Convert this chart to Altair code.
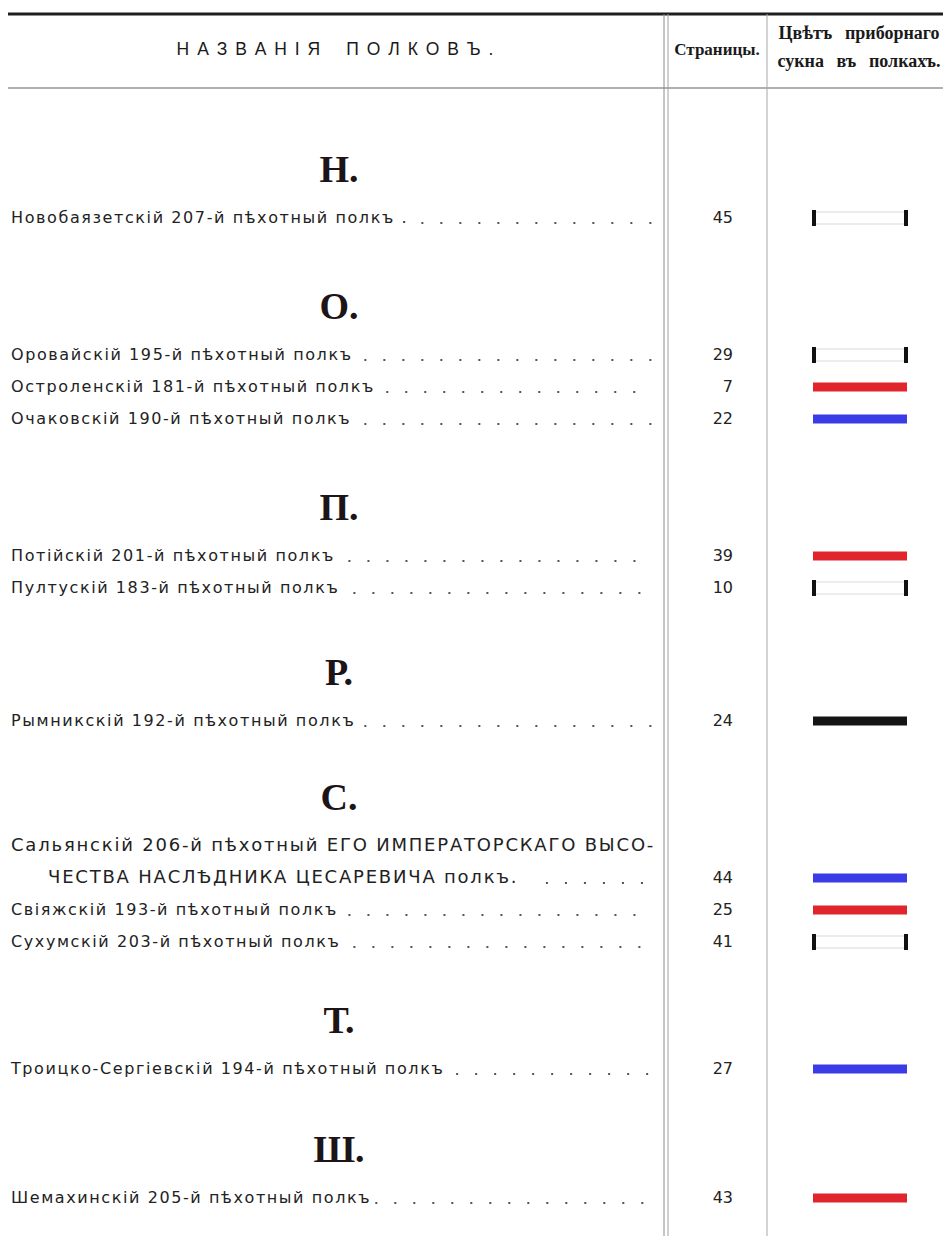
import altair as alt
import pandas as pd

# ---------------- data ----------------
letters = ["Н.", "О.", "П.", "Р.", "С.", "Т.", "Ш."]
regiments = [
    "Новобаязетскій 207-й пѣхотный полкъ .",
    "Оровайскій 195-й пѣхотный полкъ",
    "Остроленскій 181-й пѣхотный полкъ",
    "Очаковскій 190-й пѣхотный полкъ",
    "Потійскій 201-й пѣхотный полкъ",
    "Пултускій 183-й пѣхотный полкъ",
    "Рымникскій 192-й пѣхотный полкъ",
    "Сальянскій 206-й пѣхотный ЕГО ИМПЕРАТОРСКАГО ВЫСО-\nЧЕСТВА НАСЛѢДНИКА ЦЕСАРЕВИЧА полкъ.",
    "Свіяжскій 193-й пѣхотный полкъ",
    "Сухумскій 203-й пѣхотный полкъ",
    "Троицко-Сергіевскій 194-й пѣхотный полкъ",
    "Шемахинскій 205-й пѣхотный полкъ",
]
section_of = [0, 1, 1, 1, 2, 2, 3, 4, 4, 4, 5, 6]
pages = [45, 29, 7, 22, 39, 10, 24, 44, 25, 41, 27, 43]
cloth = ["white", "white", "red", "blue", "red", "white", "black",
         "blue", "red", "white", "blue", "red"]
cloth_colors = {"red": "#e0262c", "blue": "#3c3ce6", "black": "#141414"}
header_names = "НАЗВАНІЯ ПОЛКОВЪ."
header_pages = "Страницы."
header_cloth = ["Цвѣтъ приборнаго", "сукна въ полкахъ."]

# ---------------- layout (page pixel coordinates) ----------------
W, H = 935, 1228
FIRST_HEAD = 171
HEAD_GAP = 47
ROW = 32
SECTION_GAPS = [90, 90, 86, 78, 80, 82]
TEXT_X = 11
INDENT_X = 48
LEADER_END = 652
PAGE_X = 733
SW_X1, SW_X2 = 813, 907
TEXT_FS = 16
LONG_FS = 18
HAIR = "\u200a"


def track(s):
    return HAIR.join(s)


def est_width(s, fs=TEXT_FS):
    w = 0.0
    for c in s:
        if c == " ":
            w += 0.318
        elif c in ".,":
            w += 0.318
        elif c == "-":
            w += 0.36
        elif c.isdigit():
            w += 0.636
        elif c.isupper():
            w += 0.72
        elif c in "іi":
            w += 0.28
        else:
            w += 0.60
    return (w * fs * 0.92 + len(s) * 0.1 * fs) * 1.05


head_rows, text_rows, entry_rows = [], [], []
y = FIRST_HEAD
last_y = y
last_x = TEXT_X
for s, letter in enumerate(letters):
    head_rows.append({"t": letter, "y": y})
    y += HEAD_GAP
    for i, sec in enumerate(section_of):
        if sec != s:
            continue
        lines = regiments[i].split("\n")
        fs = TEXT_FS if len(lines) == 1 else LONG_FS
        for k, line in enumerate(lines):
            x0 = TEXT_X if k == 0 else INDENT_X
            text_rows.append({"t": track(line), "x": x0, "y": y, "fs": fs})
            last_y = y
            last_x = x0 + est_width(line, fs)
            y += ROW
        entry_rows.append({
            "y": last_y, "yd": last_y + 5,
            "page": str(pages[i]), "cloth": cloth[i],
            "ls": last_x + 32, "le": LEADER_END,
        })
    if s < len(SECTION_GAPS):
        y = last_y + SECTION_GAPS[s]

heads = pd.DataFrame(head_rows)
texts = pd.DataFrame(text_rows)
entries = pd.DataFrame(entry_rows)

xs = alt.Scale(domain=[8, 8 + W], nice=False, zero=False)
ys = alt.Scale(domain=[8, 8 + H], nice=False, zero=False, reverse=True)


def X(f):
    return alt.X(f, type="quantitative", scale=xs, axis=None)


def Y(f):
    return alt.Y(f, type="quantitative", scale=ys, axis=None)


# frame rules
hrules = pd.DataFrame([
    {"x": 8, "x2": 8 + W, "y": 14, "w": 3, "c": "#1e1e1e"},
    {"x": 8, "x2": 8 + W, "y": 88, "w": 2, "c": "#b0b0b0"},
])
vrules = pd.DataFrame([
    {"x": 664, "y": 14, "y2": 8 + H, "w": 1, "c": "#8c8c8c"},
    {"x": 668, "y": 14, "y2": 8 + H, "w": 1, "c": "#a0a0a0"},
    {"x": 767, "y": 14, "y2": 8 + H, "w": 1, "c": "#a8a8a8"},
])

h_layer = alt.Chart(hrules).mark_rule().encode(
    x=X("x"), x2="x2:Q", y=Y("y"),
    strokeWidth=alt.StrokeWidth("w:Q", scale=None),
    color=alt.Color("c:N", scale=None),
)
v_layer = alt.Chart(vrules).mark_rule().encode(
    x=X("x"), y=Y("y"), y2="y2:Q",
    strokeWidth=alt.StrokeWidth("w:Q", scale=None),
    color=alt.Color("c:N", scale=None),
)

# header texts
spaced = "\u2003\u2002".join("\u2005\u2009".join(list(w)) for w in header_names.split(" "))
hdr1 = alt.Chart(pd.DataFrame([{"t": spaced, "x": 335, "y": 50}])).mark_text(
    font="Liberation Sans", fontSize=17.5, color="#1a1a1a", align="center", baseline="middle"
).encode(x=X("x"), y=Y("y"), text="t:N")
hdr2 = alt.Chart(pd.DataFrame([{"t": header_pages, "x": 717, "y": 50}])).mark_text(
    font="Liberation Serif", fontSize=17, fontWeight="bold", color="#1a1a1a",
    align="center", baseline="middle"
).encode(x=X("x"), y=Y("y"), text="t:N")
hdr3 = alt.Chart(pd.DataFrame([{"t": header_cloth[0].replace(" ", "\u2002\u2009"), "x": 859, "y": 34},
                               {"t": header_cloth[1].replace(" ", "\u2002\u2009"), "x": 859, "y": 62}])).mark_text(
    font="Liberation Serif", fontSize=18, fontWeight="bold", color="#1a1a1a",
    align="center", baseline="middle"
).encode(x=X("x"), y=Y("y"), text="t:N")

# section letters
head_layer = alt.Chart(heads).mark_text(
    font="Liberation Serif", fontSize=38, fontWeight="bold", color="#1c1416",
    align="center", baseline="middle"
).encode(x=alt.value(339 - 8), y=Y("y"), text="t:N")

# regiment names
name_layer = alt.Chart(texts).mark_text(
    font="DejaVu Sans", color="#222222", align="left", baseline="middle"
).encode(x=X("x"), y=Y("y"), text="t:N", size=alt.Size("fs:Q", scale=None))

# dotted leaders
lead_layer = alt.Chart(entries).mark_rule(
    strokeDash=[2, 17], strokeWidth=2, color="#555555"
).encode(x=X("ls"), x2="le:Q", y=Y("yd"))

# page numbers
page_layer = alt.Chart(entries).mark_text(
    font="DejaVu Sans", fontSize=TEXT_FS, color="#222222", align="right", baseline="middle"
).encode(x=alt.value(PAGE_X - 8), y=Y("y"), text="page:N")

# coloured swatches
col_df = entries[entries["cloth"] != "white"].copy()
col_df["c"] = col_df["cloth"].map(cloth_colors)
col_df["x1"] = SW_X1
col_df["x2"] = SW_X2
sw_layer = alt.Chart(col_df).mark_rule(strokeWidth=9).encode(
    x=X("x1"), x2="x2:Q", y=Y("y"), color=alt.Color("c:N", scale=None)
)

# white cloth: faint outline + black end ticks
wh = entries[entries["cloth"] == "white"].copy()
outline_rows, tick_rows = [], []
for _, r in wh.iterrows():
    outline_rows.append({"x1": SW_X1, "x2": SW_X2, "y": r["y"] - 6})
    outline_rows.append({"x1": SW_X1, "x2": SW_X2, "y": r["y"] + 6})
    for xx in (SW_X1 + 1, SW_X2 - 1):
        tick_rows.append({"x": xx, "y1": r["y"] - 8, "y2": r["y"] + 8})
wo_layer = alt.Chart(pd.DataFrame(outline_rows)).mark_rule(strokeWidth=1, color="#dadada").encode(
    x=X("x1"), x2="x2:Q", y=Y("y")
)
wt_layer = alt.Chart(pd.DataFrame(tick_rows)).mark_rule(strokeWidth=4, color="#111111").encode(
    x=X("x"), y=Y("y1"), y2="y2:Q"
)

chart = alt.layer(
    h_layer, v_layer, hdr1, hdr2, hdr3, head_layer, name_layer, lead_layer,
    page_layer, sw_layer, wo_layer, wt_layer
).properties(
    width=W, height=H, padding=0, autosize=alt.AutoSizeParams(type="none"),
    background="white"
).configure_view(stroke=None)

chart.save("out.html", embed_options={"renderer": "svg", "actions": False})
